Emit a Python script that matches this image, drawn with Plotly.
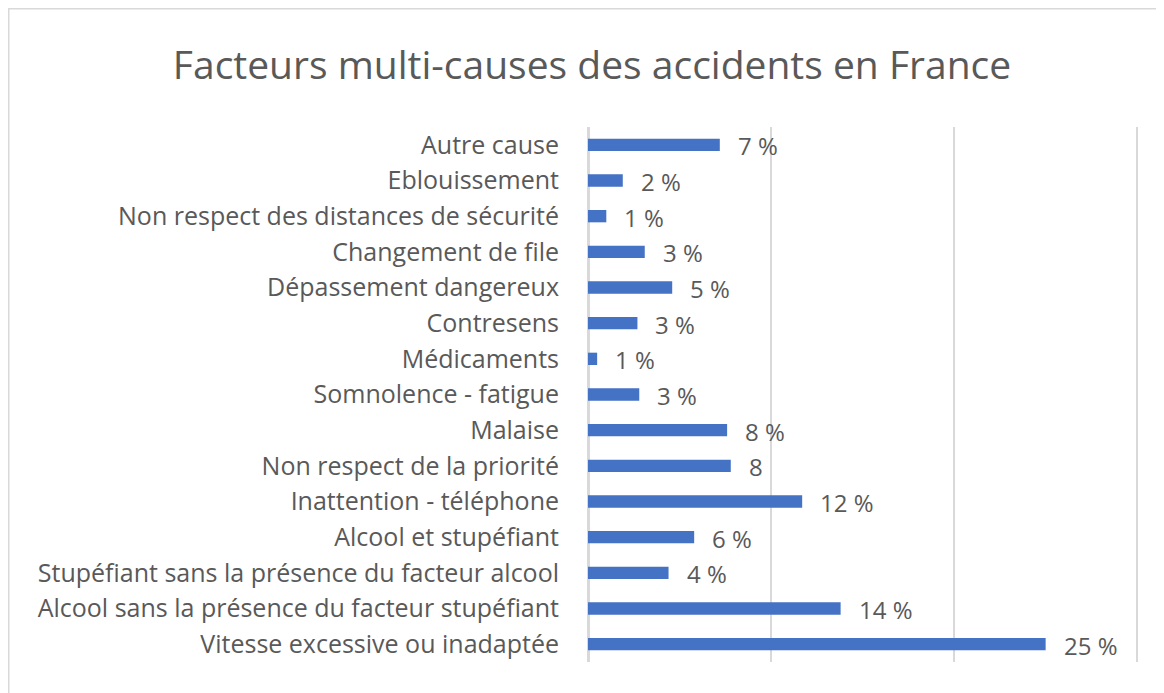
import plotly.graph_objects as go

categories = [
    "Vitesse excessive ou inadaptée",
    "Alcool sans la présence du facteur stupéfiant",
    "Stupéfiant sans la présence du facteur alcool",
    "Alcool et stupéfiant",
    "Inattention - téléphone",
    "Non respect de la priorité",
    "Malaise",
    "Somnolence - fatigue",
    "Médicaments",
    "Contresens",
    "Dépassement dangereux",
    "Changement de file",
    "Non respect des distances de sécurité",
    "Eblouissement",
    "Autre cause",
]
values = [25.0, 13.8, 4.4, 5.8, 11.7, 7.8, 7.6, 2.8, 0.5, 2.7, 4.6, 3.1, 1.0, 1.9, 7.2]
value_labels = ["25 %", "14 %", "4 %", "6 %", "12 %", "8", "8 %", "3 %", "1 %", "3 %",
                "5 %", "3 %", "1 %", "2 %", "7 %"]
title_text = "Facteurs multi-causes des accidents en France"

# page has an 8px body offset; figure sized to fill the remaining viewport
OFF = 8
W, H = 1164 - OFF, 693 - OFF
ML, MR, MT, MB = 588 - OFF, 25, 127 - OFF, 31
XMAX = 30.1
FONT = "Open Sans"
TXT = "#595959"

fig = go.Figure()
fig.add_trace(go.Bar(
    y=categories, x=values, orientation="h",
    marker=dict(color="#4472C4", line=dict(width=0)),
    width=0.345, hoverinfo="skip",
))

for c, v, t in zip(categories, values, value_labels):
    fig.add_annotation(x=v, y=c, text=t, showarrow=False, xanchor="left",
                       xshift=16, yshift=-1, font=dict(family=FONT, size=24, color=TXT))

pw = W - ML - MR
ph = H - MT - MB
bx = (0.5 - ML) / pw
by = (H - MB - 0.5) / ph
fig.add_shape(type="path", xref="paper", yref="paper",
              path=f"M {bx} {-0.2} L {bx} {by} L {1.2} {by}",
              line=dict(color="#D9D9D9", width=2))

fig.update_layout(
    width=W, height=H,
    margin=dict(l=ML, r=MR, t=MT, b=MB, pad=0),
    paper_bgcolor="white", plot_bgcolor="white",
    showlegend=False,
    title=dict(text=title_text, x=(592 - OFF) / W, xanchor="center", y=1 - (65 - OFF) / H,
               yanchor="middle", font=dict(family=FONT, size=39, color=TXT)),
    xaxis=dict(range=[0, XMAX], dtick=10, showticklabels=False, showgrid=True,
               gridcolor="#D9D9D9", gridwidth=2, zeroline=True, zerolinecolor="#D9D9D9",
               zerolinewidth=3, fixedrange=True, showline=False),
    yaxis=dict(categoryorder="array", categoryarray=categories, range=[-0.5, 14.5],
               tickfont=dict(family=FONT, size=25, color=TXT), ticks="", ticklabelstandoff=28,
               showgrid=False, fixedrange=True),
)

fig.write_html("out.html")
